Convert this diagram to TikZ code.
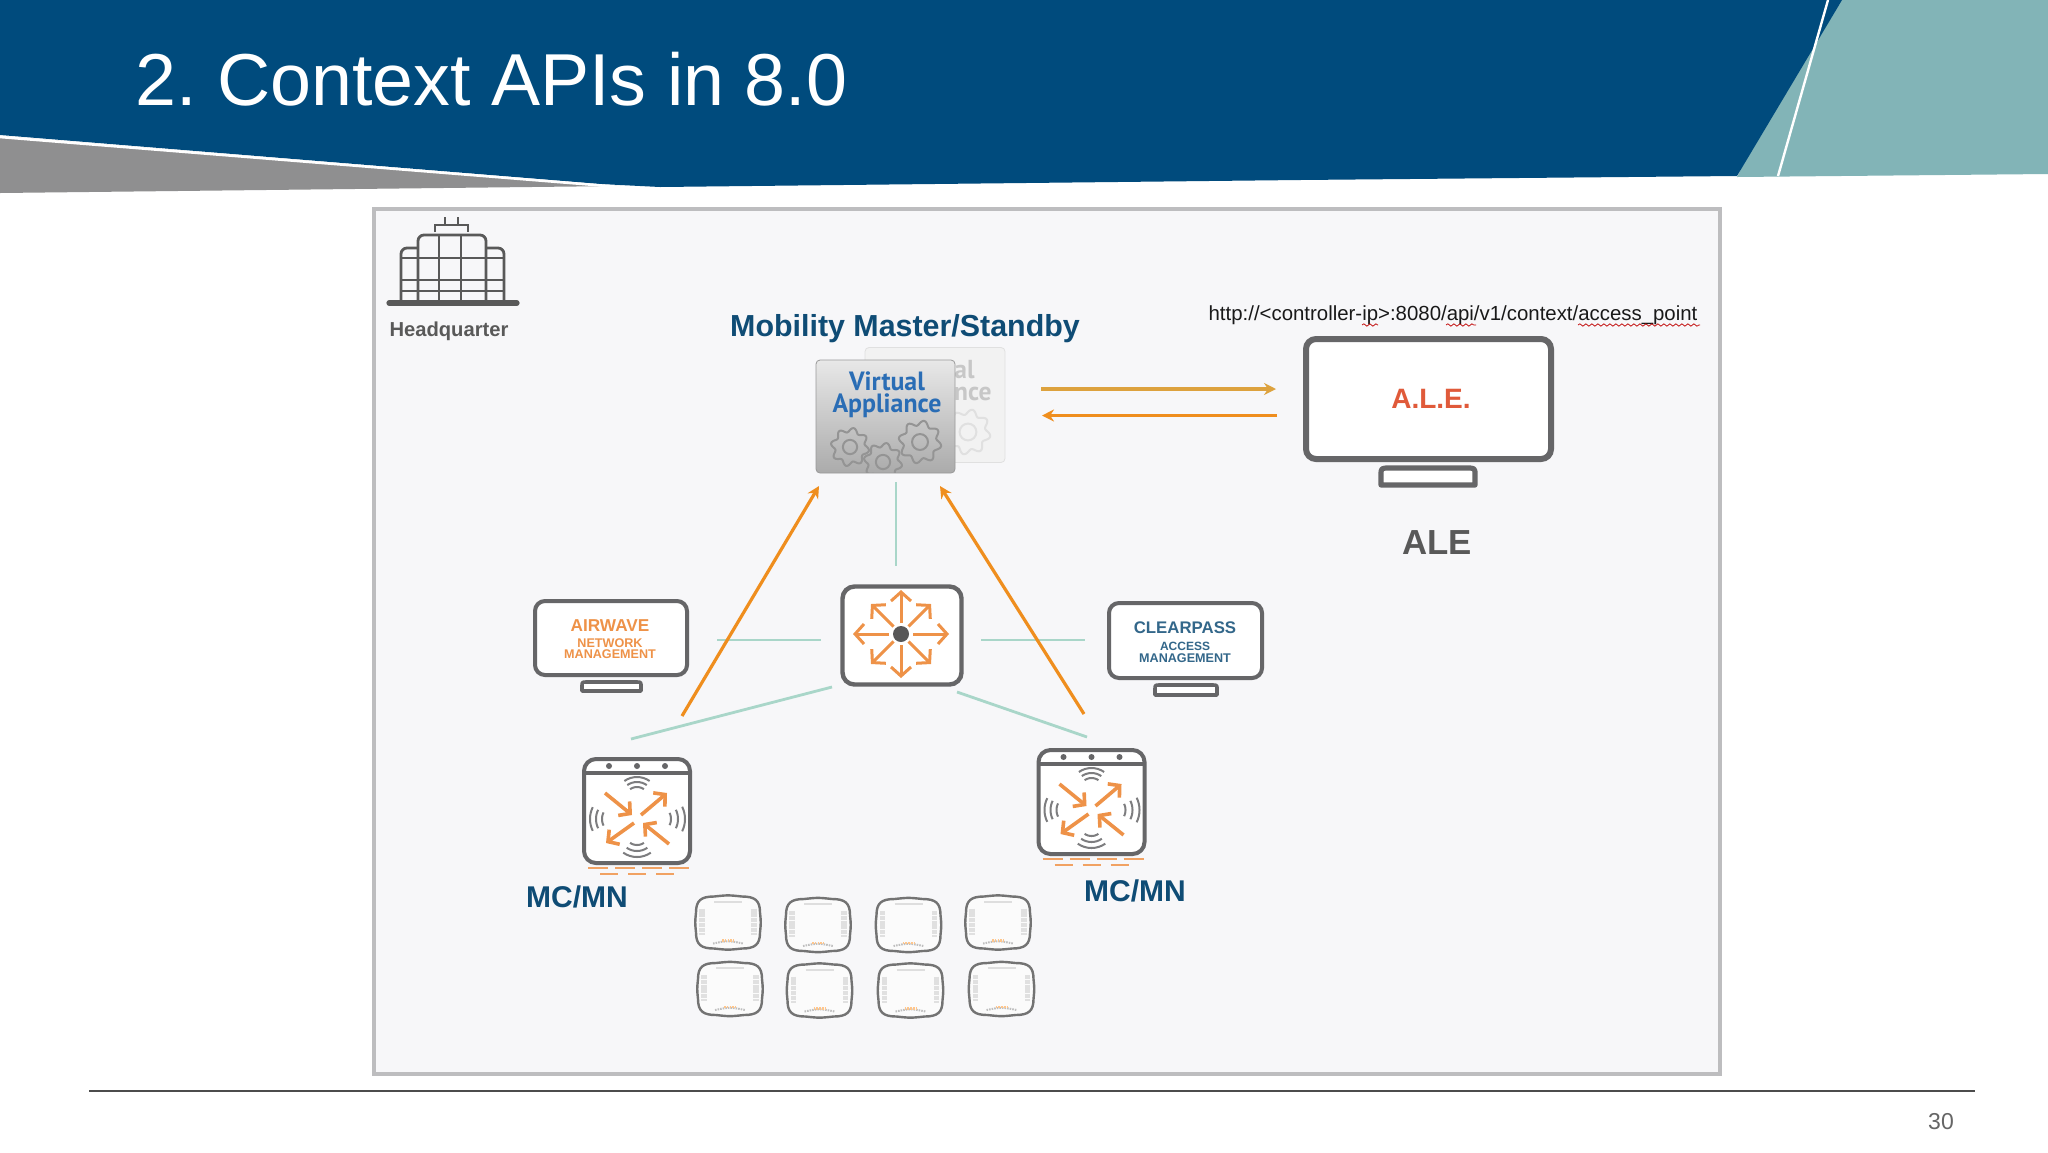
\documentclass[tikz,border=0pt]{standalone}
\usepackage{graphicx}
\usepackage{fontspec}
\setmainfont{Liberation Sans}
\newfontfamily\vafont{PT Sans}
\usetikzlibrary{arrows.meta,decorations.pathmorphing,calc}
\frenchspacing
\definecolor{hdrblue}{HTML}{004B7D}
\definecolor{hdrteal}{HTML}{82B4B7}
\definecolor{hdrgray}{HTML}{8F8F90}
\definecolor{panelbg}{HTML}{F7F7F9}
\definecolor{panelline}{HTML}{BDBDBF}
\definecolor{navy}{HTML}{0F4C75}
\definecolor{iconline}{HTML}{666668}
\definecolor{mint}{HTML}{A9D6C9}
\definecolor{arrowor}{HTML}{EF8E1E}
\definecolor{arrowgold}{HTML}{DDA23E}
\definecolor{iconor}{HTML}{EE9248}
\definecolor{vablue}{HTML}{2A6DB5}
\definecolor{alered}{HTML}{E05A3A}
\tikzset{
  x=0.5pt,y=-0.5pt,
  txt/.style={inner sep=0pt,align=center},
  monitor/.style={draw=iconline,fill=white,rounded corners=5pt,inner sep=0pt,align=center},
  stand/.style={draw=iconline,fill=white,line join=round},
  mintline/.style={draw=mint,line width=1.4pt},
  bigarrow/.style={draw=arrowor,line width=1.6pt,-{Stealth[length=6pt,width=6pt]}},
  barb/.style={draw=iconor,line width=1.8pt,-{Straight Barb[length=4pt,width=9pt]}},
  wavy/.style={draw=red!75!black,line width=.35pt,decorate,decoration={snake,amplitude=.6pt,segment length=3pt}},
  bldg/.style={draw=black!65,line width=1.4pt},
  wave/.style={draw=iconline!85,line width=1pt},
  dashor/.style={draw=iconor!85,line width=1.3pt},
  apshape/.pic={
    \draw[draw=black!55,line width=1.2pt,fill=white!97!gray]
      (-14,-26) .. controls (0,-27.5) .. (14,-26) .. controls (27,-26) and (32,-22) .. (32,-10)
      .. controls (33,0) .. (32,10) .. controls (32,22) and (27,26) .. (14,26)
      .. controls (0,27.5) .. (-14,26) .. controls (-27,26) and (-32,22) .. (-32,10)
      .. controls (-33,0) .. (-32,-10) .. controls (-32,-22) and (-27,-26) .. (-14,-26) -- cycle;
    \draw[black!12,line width=2.6pt,dash pattern=on 2pt off .4pt] (-26,-14) -- (-26,12);
    \draw[black!12,line width=2.6pt,dash pattern=on 2pt off .4pt] (26,-14) -- (26,12);
    \draw[black!13,line width=1pt] (-14,-21) -- (14,-21);
    \draw[black!25,line width=1pt,dash pattern=on .8pt off .5pt] (-15,21) .. controls (0,18) .. (15,21);
    \draw[orange!45,line width=1.1pt,dash pattern=on .8pt off .6pt] (-6,18) -- (6,18);
  },
  mcdevice/.pic={
    \draw[draw=iconline,fill=white,line width=2pt,rounded corners=6pt] (-53,-52) rectangle (53,52);
    \draw[iconline,line width=2pt] (-53,-38) -- (53,-38);
    \foreach \dx in {-28,0,28} \fill[iconline] (\dx,-45) circle (3);
    \foreach \ang/\ox/\oy/\sp/\ra/\rb/\rc in {270/0/-12/35/12/17/22,90/0/22/35/12/18/24,180/-20/8/26/15/21/27,0/20/8/26/14/21/28}
      \foreach \r in {\ra,\rb,\rc}
        \draw[wave,shift={(\ox,\oy)}] plot[domain=\ang-\sp:\ang+\sp,samples=9] ({\x}:{\r});
    \draw[barb] (-32,-18) -- (-5,4);
    \draw[barb] (4,4) -- (30,-18);
    \draw[barb] (-3,12) -- (-31,32);
    \draw[barb] (32,33) -- (6,12);
    \foreach \dx in {-49,-22,5,32} \draw[dashor] (\dx,57) -- (\dx+20,57);
    \foreach \dx in {-37,-9,19} \draw[dashor] (\dx,63) -- (\dx+18,63);
  }
}
\newcommand{\mygear}[4]{% x, y, radius, colour
  \draw[#4,line width=1pt,shift={(#1,#2)}] plot[domain=0:360,samples=121] ({\x}:{#3*(1+0.13*sin(8*\x))}) -- cycle;
  \draw[#4,line width=1pt] (#1,#2) circle ({#3*0.42});
}
\begin{document}
\begin{tikzpicture}
\useasboundingbox (0,0) rectangle (2048,1152);
\fill[white] (0,0) rectangle (2048,1152);
% header
\fill[hdrgray] (0,136) -- (620,186) -- (0,193) -- cycle;
\fill[hdrteal] (1825,0) -- (2048,0) -- (2048,174) -- (1737,177) -- cycle;
\fill[hdrblue] (0,0) -- (1842,0) -- (1737,176) -- (1300,180) -- (660,187) -- (600,184) -- (0,135) -- cycle;
\draw[white,line width=1.3pt] (0,137) -- (620,187);
\draw[white,line width=1.2pt] (1828,0) -- (1778,176);
\node[txt,anchor=base west,text=white,font=\fontsize{36.8}{40}\selectfont] (title) at (135,105) {2. Context APIs in 8.0};
% footer
\draw[black!70,line width=1pt] (89,1091) -- (1975,1091);
\node[txt,text=black!60,font=\fontsize{11.5}{13}\selectfont] (pageno) at (1941,1122) {30};
% panel
\draw[draw=panelline,fill=panelbg,line width=2.4pt] (374,209) rectangle (1720,1074);
% headquarter icon
\draw[bldg,fill=panelbg,rounded corners=3pt] (401,302) -- (401,248) -- (504,248) -- (504,302);
\draw[bldg,fill=panelbg,rounded corners=3pt] (418,302) -- (418,235) -- (486,235) -- (486,302);
\draw[bldg] (439,235) -- (439,302) (461,235) -- (461,302);
\draw[bldg] (401,258) -- (504,258) (401,280) -- (504,280) (401,291) -- (504,291);
\draw[bldg,line width=1.1pt] (435,232) -- (435,225) -- (468,225) -- (468,232) (445,217) -- (445,225) (458,217) -- (458,225);
\draw[draw=black!65,line width=2.6pt,line cap=round] (389,303) -- (517,303);
\node[txt,text=black!65,font=\bfseries\fontsize{10.1}{12}\selectfont] (hq) at (449,331) {Headquarter};
% title of group
\node[txt,text=navy,font=\bfseries\fontsize{15.2}{17}\selectfont] (mm) at (905,329) {Mobility Master/Standby};
\node[txt,text=black!90,font=\fontsize{10.2}{12}\selectfont] (url) at (1453,315) {http://<controller-ip>:8080/api/v1/context/access\_point};
\draw[wavy] (1362,325) -- (1378,325);
\draw[wavy] (1446,325) -- (1476,325);
\draw[wavy] (1578,325) -- (1700,325);
% virtual appliances
\node[draw=black!12,fill=black!5,rounded corners=2pt,minimum width=70pt,minimum height=57.5pt,inner sep=0pt] (vaback) at (935,405) {};
\node[txt,anchor=east,text=black!22,font=\vafont\bfseries\fontsize{13}{15}\selectfont] (vabackt1) at (975,370) {\scalebox{.98}[1]{al}};
\node[txt,anchor=east,text=black!22,font=\vafont\bfseries\fontsize{13}{15}\selectfont] (vabackt2) at (992,394) {\scalebox{.98}[1]{nce}};
\mygear{968}{432}{20}{black!12}
\node[draw=black!40,top color=black!9,bottom color=black!33,rounded corners=2pt,minimum width=69.5pt,minimum height=56.5pt,inner sep=0pt] (vafront) at (885.5,416.5) {};
\node[txt,text=vablue,font=\vafont\bfseries\fontsize{13.2}{15}\selectfont] (vat1) at (887,381) {\scalebox{.98}[1]{Virtual}};
\node[txt,text=vablue,font=\vafont\bfseries\fontsize{13.2}{15}\selectfont] (vat2) at (887,406) {\scalebox{.98}[1]{Appliance}};
\begin{scope}
\clip (816,360) rectangle (955,472);
\mygear{850}{447}{17}{black!42}
\mygear{883}{462}{17}{black!42}
\mygear{920}{442}{19}{black!42}
\end{scope}
% ALE
\node[monitor,line width=3pt,minimum width=122.5pt,minimum height=60pt] (ale) at (1428.5,399) {};
\node[txt,text=alered,font=\bfseries\fontsize{14}{16}\selectfont] (aletext) at (1431,399) {A.L.E.};
\draw[stand,line width=2.6pt] (1381,485) -- (1381,475) .. controls (1381,468) .. (1390,468) -- (1466,468) .. controls (1475,468) .. (1475,475) -- (1475,485) -- cycle;
\node[txt,text=black!65,font=\bfseries\fontsize{17.4}{19}\selectfont] (alelabel) at (1437,543) {ALE};
\coordinate (vaoutA) at (1041,389);
\coordinate (aleinA) at (1276,389);
\coordinate (aleoutB) at (1277,415.5);
\coordinate (vainB) at (1042,415.5);
\draw[bigarrow,draw=arrowgold] (vaoutA) -- (aleinA);
\draw[bigarrow] (aleoutB) -- (vainB);
% router
\node[draw=iconline,fill=white,line width=2.2pt,rounded corners=6pt,minimum width=59.5pt,minimum height=49pt,inner sep=0pt] (router) at (902,635.5) {};
\coordinate (rc) at (901,634);
\foreach \dx/\dy in {0/-44,0/44,-48/0,48/0,30/-30,-30/-30,30/30,-30/30}
  \draw[barb,line width=1.5pt,-{Straight Barb[length=4.5pt,width=10pt]}] ($(rc)+(0.25*\dx,0.25*\dy)$) -- ($(rc)+(\dx,\dy)$);
\fill[iconline!85!black] (rc) circle (8);
% airwave
\draw[stand,line width=1.8pt] (582,691) -- (582,686) .. controls (582,682) .. (587,682) -- (636,682) .. controls (641,682) .. (641,686) -- (641,691) -- cycle;
\node[monitor,line width=2pt,minimum width=76pt,minimum height=37pt] (airwave) at (611,638) {};
\node[txt,text=iconor,font=\bfseries\fontsize{8.6}{10}\selectfont] (awt1) at (610,625.5) {AIRWAVE};
\node[txt,text=iconor,font=\bfseries\fontsize{6.3}{7.5}\selectfont] (awt2) at (610,643) {NETWORK};
\node[txt,text=iconor,font=\bfseries\fontsize{6.3}{7.5}\selectfont] (awt3) at (610,654.5) {MANAGEMENT};
% clearpass
\draw[stand,line width=1.8pt] (1155,695) -- (1155,689) .. controls (1155,685) .. (1160,685) -- (1212,685) .. controls (1217,685) .. (1217,689) -- (1217,695) -- cycle;
\node[monitor,line width=2pt,minimum width=76.5pt,minimum height=37.5pt] (clearpass) at (1185.5,640.5) {};
\node[txt,text=navy!85,font=\bfseries\fontsize{8.4}{10}\selectfont] (cpt1) at (1185,628) {CLEARPASS};
\node[txt,text=navy!85,font=\bfseries\fontsize{6}{7.5}\selectfont] (cpt2) at (1185,646) {ACCESS};
\node[txt,text=navy!85,font=\bfseries\fontsize{6.3}{7.5}\selectfont] (cpt3) at (1185,658.5) {MANAGEMENT};
% connector ends
\coordinate (vaS) at (896,482);
\coordinate (routerN) at (896,566);
\coordinate (awE) at (717,640);
\coordinate (routerW) at (821,640);
\coordinate (routerE) at (981,640);
\coordinate (cpW) at (1085,640);
\coordinate (mcLn) at (631,739);
\coordinate (routerSW) at (832,687);
\coordinate (routerSE) at (957,692);
\coordinate (mcRn) at (1087,737);
\coordinate (mcLa) at (682,716);
\coordinate (vaSW) at (819,486);
\coordinate (mcRa) at (1084,714);
\coordinate (vaSE) at (940,486);
\draw[mintline] (vaS) -- (routerN);
\draw[mintline] (awE) -- (routerW);
\draw[mintline] (routerE) -- (cpW);
\draw[mintline] (mcLn) -- (routerSW);
\draw[mintline] (routerSE) -- (mcRn);
\draw[bigarrow] (mcLa) -- (vaSW);
\draw[bigarrow] (mcRa) -- (vaSE);
% mobility controllers
\pic (mcL) at (637,811) {mcdevice};
\pic (mcR) at (1091.5,802) {mcdevice};
\node[txt,text=navy,font=\bfseries\fontsize{15}{17}\selectfont] (mcLt) at (577,897) {MC/MN};
\node[txt,text=navy,font=\bfseries\fontsize{15}{17}\selectfont] (mcRt) at (1135,891) {MC/MN};
% access points
\pic (ap1) at (728,922.5) {apshape};
\pic (ap2) at (818,925) {apshape};
\pic (ap3) at (908.5,925) {apshape};
\pic (ap4) at (998,922.5) {apshape};
\pic (ap5) at (730,989) {apshape};
\pic (ap6) at (819.5,990.5) {apshape};
\pic (ap7) at (910.5,990.5) {apshape};
\pic (ap8) at (1001.5,989) {apshape};
\end{tikzpicture}
\end{document}
